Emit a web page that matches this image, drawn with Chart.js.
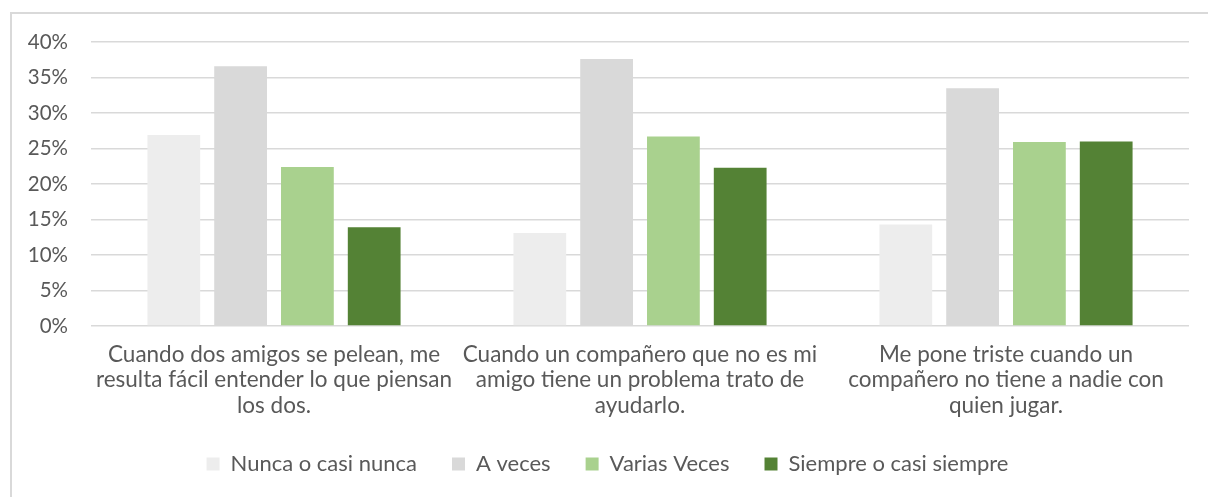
<!DOCTYPE html>
<html>
<head>
<meta charset="utf-8">
<script src="https://cdn.jsdelivr.net/npm/chart.js@4"></script>
<style>
  html, body { margin: 0; padding: 0; background: #fff; }
  #wrap { position: relative; width: 1208px; height: 497px; overflow: hidden; }
  #frame { position: absolute; left: 10px; top: 12px; width: 1300px; height: 600px;
           border-left: 2px solid #d9d9d9; border-top: 2px solid #d9d9d9; }
  #chart { position: absolute; left: 0; top: 0; }
</style>
</head>
<body>
<div id="wrap">
  <div id="frame"></div>
  <canvas id="chart" width="1208" height="497"></canvas>
</div>
<script>
// categories (multi-line labels)
const categories = [
    ["Cuando dos amigos se pelean, me", "resulta fácil entender lo que piensan", "los dos."],
    ["Cuando un compañero que no es mi", "amigo tiene un problema trato de", "ayudarlo."],
    ["Me pone triste cuando un", "compañero no tiene a nadie con", "quien jugar."]
];

const seriesNames = ["Nunca o casi nunca", "A veces", "Varias Veces", "Siempre o casi siempre"];
const seriesColors = ["#ededed", "#d9d9d9", "#a9d18e", "#548235"];

// values in %
const nunca   = [26.9, 13.1, 14.3];
const aVeces  = [36.6, 37.6, 33.5];
const varias  = [22.4, 26.7, 25.9];
const siempre = [13.9, 22.3, 26.0];

const yTicks = [0, 5, 10, 15, 20, 25, 30, 35, 40];

const textColor = "#595959";
const fontFamily = "Lato, 'Open Sans', sans-serif";

const allSeries = [nunca, aVeces, varias, siempre];

document.addEventListener("DOMContentLoaded", function () {
    const ctx = document.getElementById('chart').getContext('2d');

    new Chart(ctx, {
        type: 'bar',
        data: {
            labels: categories,
            datasets: allSeries.map((vals, i) => ({
                label: seriesNames[i],
                data: vals,
                backgroundColor: seriesColors[i],
                borderWidth: 0,
                categoryPercentage: 0.73,
                barPercentage: 0.79
            }))
        },
        options: {
            responsive: false,
            animation: false,
            layout: {
                padding: { top: 42, right: 19, bottom: 12, left: 26 }
            },
            plugins: {
                tooltip: { enabled: false },
                legend: {
                    position: 'bottom',
                    labels: {
                        boxWidth: 13,
                        boxHeight: 13,
                        padding: 35,
                        color: textColor,
                        font: { family: fontFamily, size: 22 }
                    }
                }
            },
            scales: {
                x: {
                    grid: { display: false, drawTicks: false },
                    border: { display: false },
                    ticks: {
                        color: textColor,
                        font: { family: fontFamily, size: 22.5, lineHeight: 1.133 },
                        padding: 16,
                        maxRotation: 0,
                        autoSkip: false
                    },
                    afterFit: function (scale) { scale.height = 92; }
                },
                y: {
                    min: 0,
                    max: 40,
                    afterBuildTicks: function (scale) {
                        scale.ticks = yTicks.map(v => ({ value: v }));
                    },
                    grid: { color: "#d9d9d9", lineWidth: 1.5, drawTicks: false },
                    border: { display: false },
                    ticks: {
                        color: textColor,
                        font: { family: fontFamily, size: 20.5 },
                        padding: 23,
                        callback: v => v + "%"
                    },
                    afterFit: function (scale) { scale.width = 65; }
                }
            }
        }
    });
});
</script>
</body>
</html>
